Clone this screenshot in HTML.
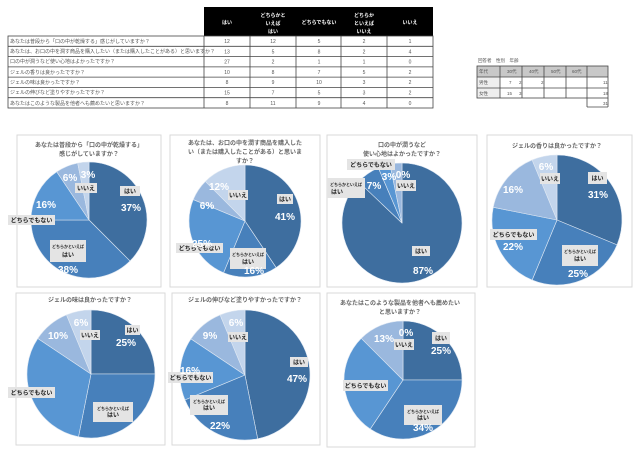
<!DOCTYPE html>
<html><head><meta charset="utf-8">
<style>
body{margin:0;width:640px;height:457px;background:#fff;overflow:hidden;font-family:"Liberation Sans","Noto Sans CJK JP",sans-serif;}
svg text{font-family:"Liberation Sans","Noto Sans CJK JP",sans-serif;}
.q{font-size:5px;fill:#555}
.n{font-size:5px;fill:#555;text-anchor:middle}
.h{font-size:5px;fill:#fff;text-anchor:middle;font-weight:bold}
.t{font-size:6px;fill:#666;text-anchor:middle;font-weight:bold}
.p{font-size:10px;fill:#fff;font-weight:bold;text-anchor:middle}
.l{font-size:6px;fill:#222;font-weight:bold;text-anchor:middle}
.s{font-size:4px;fill:#222;font-weight:bold;text-anchor:middle}
.lb{fill:#e4e4e4}
</style></head><body>
<svg id="s" width="640" height="457" viewBox="0 0 640 457" xmlns="http://www.w3.org/2000/svg">
<rect x="204" y="7" width="229" height="29" fill="#000"/>
<g class="h">
<text x="227" y="24">はい</text>
<text x="273" y="17">どちらかと</text><text x="273" y="25">いえば</text><text x="273" y="33">はい</text>
<text x="319" y="24">どちらでもない</text>
<text x="364" y="17">どちらか</text><text x="364" y="25">といえば</text><text x="364" y="33">いいえ</text>
<text x="410" y="24">いいえ</text>
</g>
<g stroke="#444" stroke-width="0.8" fill="none">
<rect x="8" y="36" width="425" height="72"/>
<line x1="8" y1="46.3" x2="433" y2="46.3"/><line x1="8" y1="56.6" x2="433" y2="56.6"/><line x1="8" y1="66.9" x2="433" y2="66.9"/><line x1="8" y1="77.1" x2="433" y2="77.1"/><line x1="8" y1="87.4" x2="433" y2="87.4"/><line x1="8" y1="97.7" x2="433" y2="97.7"/>
<line x1="204" y1="36" x2="204" y2="108"/><line x1="250" y1="36" x2="250" y2="108"/><line x1="296" y1="36" x2="296" y2="108"/><line x1="341" y1="36" x2="341" y2="108"/><line x1="387" y1="36" x2="387" y2="108"/>
</g>
<g class="q">
<text x="10" y="43">あなたは普段から「口の中が乾燥する」感じがしていますか？</text>
<text x="10" y="53">あなたは、お口の中を潤す商品を購入したい（または購入したことがある）と思いますか？</text>
<text x="10" y="63">口の中が潤うなど使い心地はよかったですか？</text>
<text x="10" y="74">ジェルの香りは良かったですか？</text>
<text x="10" y="84">ジェルの味は良かったですか？</text>
<text x="10" y="94">ジェルの伸びなど塗りやすかったですか？</text>
<text x="10" y="105">あなたはこのような製品を他者へも薦めたいと思いますか？</text>
</g>
<g class="n" id="nums"></g>
<text x="478" y="62" class="q" style="font-size:4.5px">回答者　性別　年齢</text>
<rect x="477" y="66" width="131" height="11" fill="#c8c8c8"/>
<rect x="477" y="77" width="23" height="21" fill="#eee"/>
<g stroke="#444" stroke-width="0.8" fill="none">
<rect x="477" y="66" width="131" height="32"/>
<line x1="477" y1="77" x2="608" y2="77"/><line x1="477" y1="88" x2="608" y2="88"/>
<line x1="500" y1="66" x2="500" y2="98"/><line x1="522" y1="66" x2="522" y2="98"/><line x1="544" y1="66" x2="544" y2="98"/><line x1="566" y1="66" x2="566" y2="98"/><line x1="587" y1="66" x2="587" y2="107"/>
<line x1="608" y1="98" x2="608" y2="107"/><line x1="587" y1="107" x2="608" y2="107"/>
</g>
<g class="q" style="font-size:4.5px">
<text x="479" y="73">年代</text><text x="507" y="73">30代</text><text x="529" y="73">40代</text><text x="551" y="73">50代</text><text x="572" y="73">60代</text>
<text x="479" y="84">男性</text><text x="479" y="95">女性</text>
<text x="509" y="84">7</text><text x="519" y="84">2</text><text x="541" y="84">2</text><text x="603" y="84">11</text>
<text x="507" y="95">15</text><text x="519" y="95">3</text><text x="603" y="95">18</text><text x="603" y="105">31</text>
</g>
<g fill="none" stroke="#d9d9d9" stroke-width="1">
<rect x="17" y="135" width="144" height="152"/><rect x="170" y="135" width="150" height="152"/>
<rect x="327" y="135" width="150" height="152"/><rect x="487" y="135" width="145" height="152"/>
<rect x="16" y="293" width="149" height="152"/><rect x="172" y="293" width="148" height="152"/>
<rect x="327" y="293" width="148" height="154"/>
</g>
<g id="pies"></g>
<g class="t">
<text x="89" y="147">あなたは普段から「口の中が乾燥する」</text><text x="89" y="156">感じがしていますか？</text>
<text x="245" y="145">あなたは、お口の中を潤す商品を購入した</text><text x="245" y="154">い（または購入したことがある）と思いま</text><text x="245" y="163">すか？</text>
<text x="402" y="147">口の中が潤うなど</text><text x="402" y="156">使い心地はよかったですか？</text>
<text x="557" y="148">ジェルの香りは良かったですか？</text>
<text x="90" y="302">ジェルの味は良かったですか？</text>
<text x="245" y="302">ジェルの伸びなど塗りやすかったですか？</text>
<text x="400" y="305">あなたはこのような製品を他者へも薦めたい</text><text x="400" y="314">と思いますか？</text>
</g>
<g class="lb">
<rect x="75" y="183" width="22" height="10"/><rect x="120" y="186" width="20" height="10"/><rect x="8" y="215" width="47" height="10"/><rect x="50" y="240" width="36" height="22"/>
<rect x="228" y="190" width="20" height="10"/><rect x="277" y="194" width="16" height="10"/><rect x="176" y="243" width="47" height="10"/><rect x="230" y="248" width="36" height="21"/>
<rect x="347" y="159" width="48" height="11"/><rect x="396" y="180" width="20" height="11"/><rect x="327" y="178" width="38" height="20"/><rect x="412" y="246" width="18" height="10"/>
<rect x="540" y="173" width="20" height="11"/><rect x="588" y="172" width="19" height="12"/><rect x="490" y="229" width="47" height="11"/><rect x="562" y="245" width="36" height="21"/>
<rect x="80" y="330" width="20" height="10"/><rect x="125" y="325" width="15" height="10"/><rect x="8" y="387" width="47" height="11"/><rect x="93" y="402" width="40" height="20"/>
<rect x="228" y="332" width="20" height="10"/><rect x="290" y="357" width="18" height="10"/><rect x="168" y="372" width="45" height="11"/><rect x="190" y="395" width="38" height="20"/>
<rect x="394" y="339" width="20" height="11"/><rect x="432" y="332" width="18" height="12"/><rect x="343" y="380" width="45" height="11"/><rect x="404" y="405" width="38" height="20"/>
</g>
<g class="l">
<text x="86" y="190.5">いいえ</text><text x="130" y="193.5">はい</text><text x="31.5" y="222.5">どちらでもない</text><text x="68" y="257">はい</text>
<text x="238" y="197.5">いいえ</text><text x="285" y="201.5">はい</text><text x="199.5" y="250.5">どちらでもない</text><text x="248" y="264">はい</text>
<text x="371" y="167">どちらでもない</text><text x="406" y="188">いいえ</text><text x="337" y="194">はい</text><text x="421" y="253.5">はい</text>
<text x="550" y="181">いいえ</text><text x="597.5" y="180.5">はい</text><text x="513.5" y="237">どちらでもない</text><text x="580" y="261">はい</text>
<text x="90" y="337.5">いいえ</text><text x="132.5" y="332.5">はい</text><text x="31.5" y="395">どちらでもない</text><text x="113" y="417">はい</text>
<text x="238" y="339.5">いいえ</text><text x="299" y="364.5">はい</text><text x="190.5" y="380">どちらでもない</text><text x="209" y="410">はい</text>
<text x="404" y="347">いいえ</text><text x="441" y="340.5">はい</text><text x="365.5" y="388">どちらでもない</text><text x="423" y="420">はい</text>
</g>
<g class="s">
<text x="68" y="248">どちらかといえば</text><text x="248" y="256">どちらかといえば</text><text x="346" y="186">どちらかといえば</text><text x="580" y="253">どちらかといえば</text>
<text x="113" y="410">どちらかといえば</text><text x="209" y="403">どちらかといえば</text><text x="423" y="413">どちらかといえば</text>
</g>
<g class="p">
<text x="70" y="181">6%</text><text x="88" y="178">3%</text><text x="131" y="211">37%</text><text x="46" y="208">16%</text><text x="68" y="273">38%</text>
<text x="219" y="190">12%</text><text x="207" y="209">6%</text><text x="285" y="220">41%</text><text x="202" y="247">25%</text><text x="254" y="274">16%</text>
<text x="389" y="180">3%</text><text x="403" y="178">0%</text><text x="374" y="189">7%</text><text x="423" y="274">87%</text>
<text x="546" y="170">6%</text><text x="598" y="198">31%</text><text x="513" y="193">16%</text><text x="513" y="250">22%</text><text x="578" y="277">25%</text>
<text x="81" y="326">6%</text><text x="58" y="339">10%</text><text x="126" y="346">25%</text>
<text x="236" y="326">6%</text><text x="210" y="339">9%</text><text x="297" y="382">47%</text><text x="190" y="374">16%</text><text x="220" y="429">22%</text>
<text x="406" y="336">0%</text><text x="384" y="342">13%</text><text x="441" y="354">25%</text><text x="423" y="431">34%</text>
</g>
</svg>
<script>
var data=[[12,12,5,2,1],[13,5,8,2,4],[27,2,1,1,0],[10,8,7,5,2],[8,9,10,3,2],[15,7,5,3,2],[8,11,9,4,0]];
var geo=[[89,220,58],[245,221,56],[402,223,60],[557,220,65],[91,374,64],[245,375,65],[403,380,59]];
var cols=["#3e6e9f","#4780bb","#5896d3","#9ab8de","#c3d5ec"];
var NS="http://www.w3.org/2000/svg",g=document.getElementById("pies");
data.forEach(function(d,i){var tot=d.reduce(function(a,b){return a+b},0),a=-Math.PI/2,c=geo[i];
d.forEach(function(v,j){if(!v)return;var b=a+v/tot*2*Math.PI;
var x1=c[0]+c[2]*Math.cos(a),y1=c[1]+c[2]*Math.sin(a),x2=c[0]+c[2]*Math.cos(b),y2=c[1]+c[2]*Math.sin(b);
var p=document.createElementNS(NS,"path");
p.setAttribute("d","M"+c[0]+","+c[1]+"L"+x1+","+y1+"A"+c[2]+","+c[2]+" 0 "+((b-a)>Math.PI?1:0)+" 1 "+x2+","+y2+"Z");
p.setAttribute("fill",cols[j]);p.setAttribute("stroke","#dfe8f3");p.setAttribute("stroke-width","0.6");g.appendChild(p);a=b;});});
var nums=document.getElementById("nums"),cx=[227,273,319,364,410];
data.forEach(function(d,i){d.forEach(function(v,j){var t=document.createElementNS(NS,"text");t.setAttribute("x",cx[j]);t.setAttribute("y",43+i*10.3);t.textContent=v;nums.appendChild(t);});});
</script>
</body></html>
